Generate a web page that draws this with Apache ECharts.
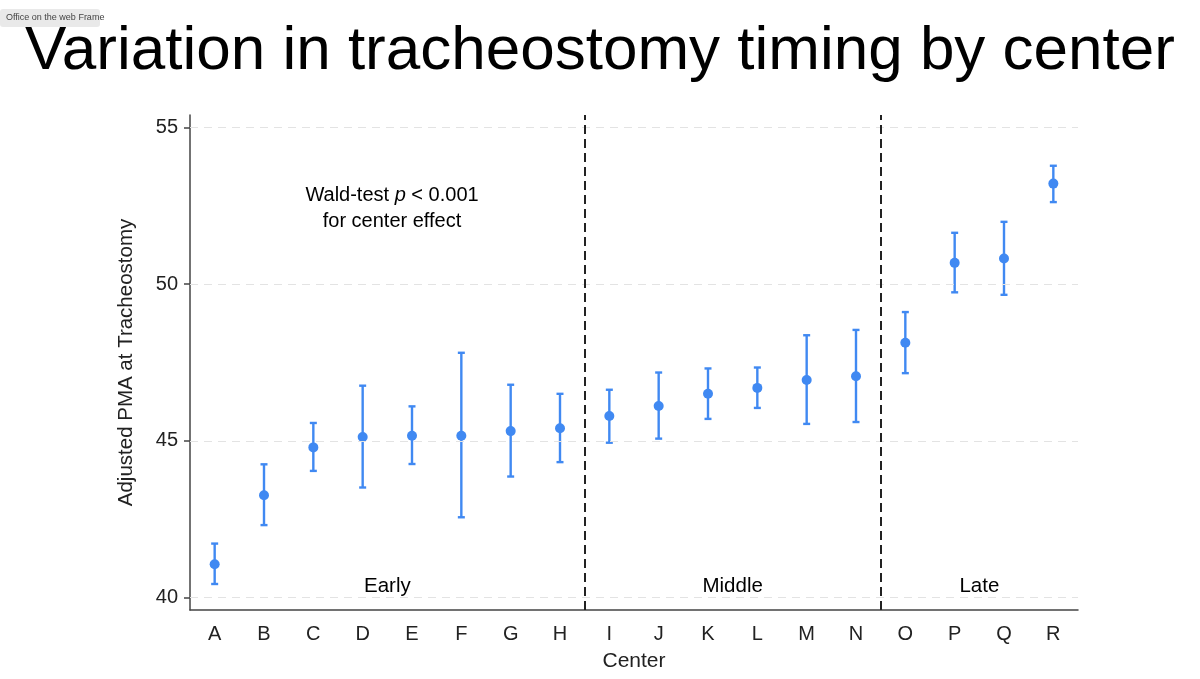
<!DOCTYPE html>
<html>
<head>
<meta charset="utf-8">
<script src="https://cdn.jsdelivr.net/npm/echarts@6/dist/echarts.min.js"></script>
<style>
html,body{margin:0;padding:0;background:#fff;}
#chart{width:1200px;height:679px;}
</style>
</head>
<body>
<div id="chart"></div>
<script>
var centers = ['A','B','C','D','E','F','G','H','I','J','K','L','M','N','O','P','Q','R'];
var estimate = [41.06,43.26,44.79,45.12,45.16,45.16,45.31,45.40,45.79,46.11,46.50,46.69,46.94,47.06,48.13,50.68,50.82,53.21];
var lower    = [40.43,42.31,44.04,43.51,44.26,42.56,43.86,44.32,44.94,45.07,45.70,46.05,45.54,45.60,47.16,49.74,49.66,52.62];
var upper    = [41.72,44.25,45.57,46.76,46.10,47.81,46.79,46.50,46.63,47.18,47.31,47.34,48.37,48.54,49.11,51.64,51.99,53.78];
var yTicks = [40,45,50,55];
var groupNames = ['Early','Middle','Late'];
var groupStart = [-0.5, 7.5, 13.5];
var groupEnd   = [7.5, 13.5, 17.5];
var dividers = [7.5, 13.5];

var blue = '#4089f2';
var font = 'Liberation Sans, Arial, Helvetica, sans-serif';

var chart = echarts.init(document.getElementById('chart'));

var errData = centers.map(function(c,i){ return [i, lower[i], upper[i]]; });
var ptData = centers.map(function(c,i){ return [c, estimate[i]]; });
var groupLabelData = groupNames.map(function(n,i){ return {name:n, value:[(groupStart[i]+groupEnd[i])/2, 40.35]}; });

var option = {
  backgroundColor: '#fff',
  animation: false,
  title: {
    text: 'Variation in tracheostomy timing by center',
    left: 'center',
    top: 16,
    textStyle: {fontFamily: font, fontSize: 62, fontWeight: 'normal', color: '#000'}
  },
  graphic: [
    {type:'rect', left:0, top:9, shape:{width:100, height:18, r:3}, style:{fill:'#e9e9e9'}},
    {type:'text', left:6, top:13, style:{text:'Office on the web Frame', font:'9px ' + font, fill:'#444'}},
    {type:'text', x:392, y:182, style:{
      text:'{n|Wald-test }{i|p}{n| < 0.001}\n{n|for center effect}',
      align:'center', verticalAlign:'top', lineHeight:26,
      rich:{
        n:{fontFamily:font, fontSize:20, fill:'#000', lineHeight:26},
        i:{fontFamily:font, fontSize:20, fontStyle:'italic', fill:'#000', lineHeight:26}
      }
    }}
  ],
  grid: {left:190, right:122, top:115, bottom:69, containLabel:false},
  xAxis: [
    {
      type:'category', data: centers, boundaryGap:true,
      name:'Center', nameLocation:'middle', nameGap:41,
      nameTextStyle:{fontFamily:font, fontSize:21, color:'#222'},
      axisLine:{onZero:false, lineStyle:{color:'#444', width:1.5}},
      axisTick:{alignWithLabel:true, length:7, lineStyle:{color:'#444', width:1.5}},
      axisLabel:{fontFamily:font, fontSize:20, color:'#222', margin:14},
      splitLine:{show:false}
    },
    {
      type:'value', min:-0.5, max:17.5, show:false
    }
  ],
  yAxis: {
    type:'value', min:39.6, max:55.4,
    name:'Adjusted PMA at Tracheostomy', nameLocation:'middle', nameGap:53,
    nameTextStyle:{fontFamily:font, fontSize:20.5, color:'#222'},
    axisLine:{show:true, onZero:false, lineStyle:{color:'#444', width:1.5}},
    axisTick:{show:true, length:6, customValues: yTicks, lineStyle:{color:'#444', width:1.5}},
    axisLabel:{fontFamily:font, fontSize:20, color:'#222', margin:12, customValues: yTicks},
    splitLine:{show:false}
  },
  series: [
    {
      type:'line', xAxisIndex:1, data:[], silent:true,
      markLine:{
        symbol:'none', silent:true, label:{show:false},
        lineStyle:{color:'#e3e3e3', type:[8,6], width:1.2},
        data: yTicks.map(function(v){ return {yAxis:v}; })
      }
    },
    {
      type:'line', xAxisIndex:1, data:[], silent:true,
      markLine:{
        symbol:'none', silent:true, label:{show:false},
        lineStyle:{color:'#222', type:[9,5], width:2},
        data: dividers.map(function(v){ return [{coord:[v,39.6]},{coord:[v,55.4]}]; })
      }
    },
    {
      type:'custom', xAxisIndex:0, data: errData, z:3,
      renderItem: function(params, api){
        var x = api.value(0);
        var pLo = api.coord([x, api.value(1)]);
        var pHi = api.coord([x, api.value(2)]);
        var cap = 3.5;
        var st = {stroke: blue, lineWidth: 2.4};
        return {type:'group', children:[
          {type:'line', shape:{x1:pLo[0], y1:pLo[1], x2:pHi[0], y2:pHi[1]}, style:st},
          {type:'line', shape:{x1:pLo[0]-cap, y1:pLo[1], x2:pLo[0]+cap, y2:pLo[1]}, style:st},
          {type:'line', shape:{x1:pHi[0]-cap, y1:pHi[1], x2:pHi[0]+cap, y2:pHi[1]}, style:st}
        ]};
      }
    },
    {
      type:'scatter', xAxisIndex:0, data: ptData, symbol:'circle', symbolSize:10, z:4,
      itemStyle:{color: blue, opacity:1}
    },
    {
      type:'scatter', xAxisIndex:1, data: groupLabelData, symbolSize:0, silent:true,
      itemStyle:{opacity:1},
      label:{show:true, position:'inside', formatter:'{b}', fontFamily:font, fontSize:20.5, color:'#000', opacity:1}
    }
  ]
};
chart.setOption(option);
</script>
</body>
</html>
